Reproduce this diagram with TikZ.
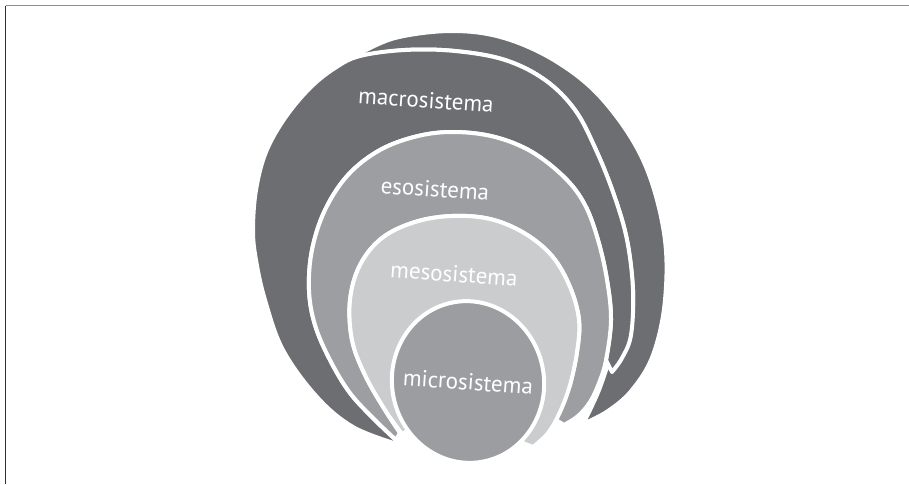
\documentclass[tikz,border=0pt]{standalone}
\usepackage{fontspec}
\setmainfont{PT Sans}
\definecolor{macrogray}{HTML}{6D6E72}
\definecolor{esogray}{HTML}{9D9EA2}
\definecolor{mesogray}{HTML}{CBCCCE}
\definecolor{microgray}{HTML}{9C9DA1}
\definecolor{topline}{HTML}{8E8E8E}
\definecolor{leftline}{HTML}{2E2E2E}
\begin{document}
\begin{tikzpicture}[x=1pt,y=-1pt,
  layer/.style={draw=white, line width=4pt, line join=round},
  lbl/.style={text=white, font=\fontsize{23}{26}\selectfont, rotate=-4, inner sep=0pt}]
\useasboundingbox (0,0) rectangle (909,484);
\draw[line width=1.3pt, topline] (5.7,5.7) -- (909,5.7);
\draw[line width=1.3pt, leftline] (5.7,5.7) -- (5.7,484);
% back band
\path[layer, fill=macrogray]
  plot[smooth, tension=0.6] coordinates {(357,55) (395,38) (452,31) (504,38) (557,62) (603,100) (643,160) (664,233) (665,300) (653,355) (632,390) (608,411) (583,424)}
  -- plot[smooth, tension=0.6] coordinates {(583,424) (590,410) (599,390) (606,370)}
  -- plot[smooth, tension=0.6] coordinates {(632,320) (633,290) (627,240) (614,195) (596,150) (575,110) (545,80) (505,60) (455,51) (405,50) (360,56)}
  -- cycle;
% macro
\path[layer, fill=macrogray]
  plot[smooth, tension=0.6] coordinates {(397,444) (353,427) (317,397) (283,350) (265,300) (256,260) (253,230) (256,190) (266,152) (285,118) (310,88) (335,68) (360,56) (405,50) (455,51) (505,60) (545,80) (575,110) (596,150) (614,195) (627,240) (633,290) (631,335) (622,358) (612,372)}
  -- plot[smooth, tension=0.6] coordinates {(606,360) (611,320) (607,280) (598,240) (585,205) (565,178) (532,152) (495,137) (455,132) (418,136) (380,150) (348,175) (325,210) (312,250) (309,290) (315,325) (330,360) (350,393) (375,420) (396,440)}
  -- cycle;
% eso
\path[layer, fill=esogray]
  plot[smooth, tension=0.6] coordinates {(396,440) (375,420) (350,393) (330,360) (315,325) (309,290) (312,250) (325,210) (348,175) (380,150) (418,136) (455,132) (495,137) (532,152) (565,178) (585,205) (598,240) (607,280) (611,320) (606,360) (599,383) (590,402) (578,416) (564,425)}
  -- (556,420)
  -- plot[smooth, tension=0.6] coordinates {(570,385) (577,352) (579,320) (570,287) (552,256) (524,233) (490,219) (452,216) (415,222) (382,238) (360,265) (350,300) (352,340) (365,375) (385,410) (400,433)}
  -- cycle;
% meso
\path[layer, fill=mesogray]
  plot[smooth, tension=0.6] coordinates {(402,434) (385,410) (365,375) (352,340) (350,300) (360,265) (382,238) (415,222) (452,216) (490,219) (524,233) (552,256) (570,287) (579,320) (577,352) (570,385) (560,412) (548,433) (533,447)}
  -- (515,440) -- (480,400) -- (440,400) -- (418,425) -- cycle;
% micro
\begin{scope}[shift={(468,382)}, rotate=10]
\path[layer, fill=microgray] (0,0) ellipse [x radius=76, y radius=81];
\end{scope}
\node[lbl] (macro) at (426,100) {macrosistema};
\node[lbl] (eso) at (435,189) {esosistema};
\node[lbl] (meso) at (454,274) {mesosistema};
\node[lbl] (micro) at (468,382) {microsistema};
\end{tikzpicture}
\end{document}
